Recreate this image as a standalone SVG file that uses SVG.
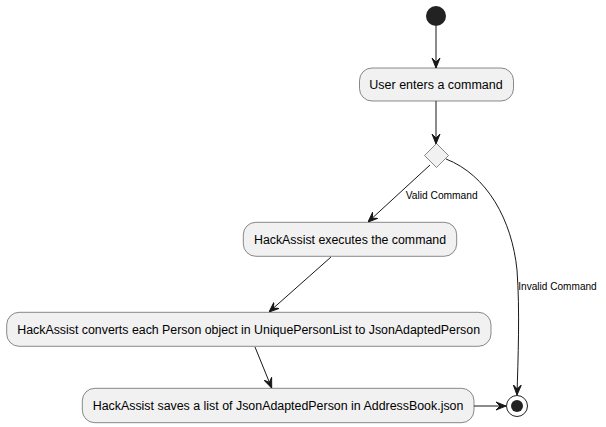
<svg xmlns="http://www.w3.org/2000/svg" width="606" height="427" viewBox="0 0 606 427">
<defs>
<style>
.act{fill:#F1F1F1;stroke:#181818;stroke-width:0.5;}
.t{font-family:"Liberation Sans",Arial,sans-serif;font-size:12px;fill:#000;}
.lbl{font-family:"Liberation Sans",Arial,sans-serif;font-size:11px;fill:#000;}
.ln{fill:none;stroke:#181818;stroke-width:1;}
</style>
<marker id="ah" viewBox="0 0 10 10" refX="10" refY="5" markerWidth="10" markerHeight="10" markerUnits="userSpaceOnUse" orient="auto">
<path d="M10,5 L0,1 L4,5 L0,9 Z" fill="#181818" stroke="#181818" stroke-width="1"/>
</marker>
</defs>
<rect width="606" height="427" fill="#FFFFFF"/>
<g id="connectors">
<line class="ln" x1="436" y1="26" x2="436" y2="68" marker-end="url(#ah)"/>
<line class="ln" x1="436" y1="101" x2="436" y2="144" marker-end="url(#ah)"/>
<line class="ln" x1="430" y1="165" x2="368" y2="222" marker-end="url(#ah)"/>
<text class="lbl" x="405.7" y="199" textLength="72" lengthAdjust="spacingAndGlyphs">Valid Command</text>
<path class="ln" d="M446,159 C487,175 512,220 517,270 C520,310 518,360 517,395" marker-end="url(#ah)"/>
<text class="lbl" x="518.3" y="289.5" textLength="78.4" lengthAdjust="spacingAndGlyphs">Invalid Command</text>
<line class="ln" x1="331" y1="257" x2="269" y2="312" marker-end="url(#ah)"/>
<line class="ln" x1="255" y1="347" x2="271.7" y2="388" marker-end="url(#ah)"/>
<line class="ln" x1="474" y1="406" x2="506" y2="406" marker-end="url(#ah)"/>
</g>
<g id="start">
<circle cx="436" cy="16" r="10" fill="#222222"/>
</g>
<g id="userEnters">
<rect class="act" x="359.5" y="68" width="154" height="33" rx="12.5"/>
<text class="t" x="369.3" y="89" textLength="133.4" lengthAdjust="spacingAndGlyphs">User enters a command</text>
</g>
<g id="decision">
<polygon class="act" points="436.5,143.5 448.5,155.5 436.5,167.5 424.5,155.5"/>
</g>
<g id="executes">
<rect class="act" x="243.3" y="222.3" width="213.4" height="34" rx="12.5"/>
<text class="t" x="254" y="243.5" textLength="192" lengthAdjust="spacingAndGlyphs">HackAssist executes the command</text>
</g>
<g id="converts">
<rect class="act" x="6.7" y="312.3" width="484.3" height="34" rx="12.5"/>
<text class="t" x="17.3" y="333.5" textLength="462.7" lengthAdjust="spacingAndGlyphs">HackAssist converts each Person object in UniquePersonList to JsonAdaptedPerson</text>
</g>
<g id="saves">
<rect class="act" x="82.3" y="388.3" width="391.7" height="34.4" rx="12.5"/>
<text class="t" x="92.7" y="409.5" textLength="370.7" lengthAdjust="spacingAndGlyphs">HackAssist saves a list of JsonAdaptedPerson in AddressBook.json</text>
</g>
<g id="end">
<circle cx="517" cy="406" r="10.5" fill="none" stroke="#222222" stroke-width="1"/>
<circle cx="517" cy="406" r="6" fill="#222222"/>
</g>
</svg>
